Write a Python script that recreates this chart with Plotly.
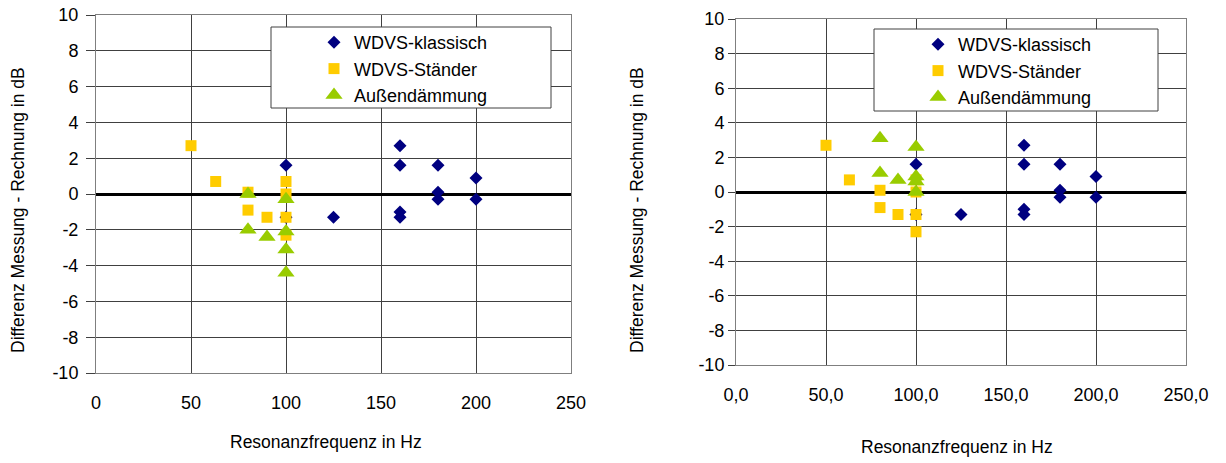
import plotly.graph_objects as go

# Resonanzfrequenz (Hz) und Differenz Messung - Rechnung (dB)
klassisch_f = [100, 100, 125, 160, 160, 160, 160, 180, 180, 180, 200, 200]
klassisch_d = [1.6, -1.3, -1.3, 2.7, 1.6, -1.0, -1.3, 1.6, 0.1, -0.3, 0.9, -0.3]

staender_f = [50, 63, 80, 80, 90, 100, 100, 100, 100]
staender_d = [2.7, 0.7, 0.1, -0.9, -1.3, 0.7, 0.0, -1.3, -2.3]

aussen_f = [80, 80, 90, 100, 100, 100, 100]
aussen_d_links = [0.0, -2.0, -2.4, -0.3, -2.1, -3.1, -4.4]
aussen_d_rechts = [3.1, 1.1, 0.7, 2.6, 0.9, 0.6, 0.0]

x_ticks = [0, 50, 100, 150, 200, 250]
x_labels_links = ["0", "50", "100", "150", "200", "250"]
x_labels_rechts = ["0,0", "50,0", "100,0", "150,0", "200,0", "250,0"]
y_ticks = [-10, -8, -6, -4, -2, 0, 2, 4, 6, 8, 10]
y_labels = ["-10", "-8", "-6", "-4", "-2", "0", "2", "4", "6", "8", "10"]

W, H = 1226, 463
FONT = "Liberation Sans, Arial, sans-serif"
C_KLASSISCH = "#000080"
C_STAENDER = "#FFCC00"
C_AUSSEN = "#99CC00"


def px_x(p):
    return p / W


def px_y(p):
    return 1 - p / H


fig = go.Figure()


def add_series(xa, ya, leg, aussen_d):
    fig.add_trace(go.Scatter(
        x=klassisch_f, y=klassisch_d, mode="markers", name="WDVS-klassisch",
        marker=dict(symbol="diamond", size=10, color=C_KLASSISCH),
        xaxis=xa, yaxis=ya, legend=leg))
    fig.add_trace(go.Scatter(
        x=staender_f, y=staender_d, mode="markers", name="WDVS-Ständer",
        marker=dict(symbol="square", size=11, color=C_STAENDER),
        xaxis=xa, yaxis=ya, legend=leg))
    fig.add_trace(go.Scatter(
        x=aussen_f, y=aussen_d, mode="markers", name="Außendämmung",
        marker=dict(symbol="triangle-up", size=15, color=C_AUSSEN),
        xaxis=xa, yaxis=ya, legend=leg))


add_series("x", "y", "legend", aussen_d_links)
add_series("x2", "y2", "legend2", aussen_d_rechts)

grid = "#404040"
tickfont = dict(family=FONT, size=18, color="#000")
common_x = dict(range=[0, 250], tickvals=x_ticks, showgrid=True, gridcolor=grid,
                gridwidth=1, zeroline=False, showline=True, linecolor="#7f7f7f",
                linewidth=1, mirror=True, ticks="", ticklabelstandoff=13,
                tickfont=tickfont, automargin=False)
common_y = dict(range=[-10, 10], tickvals=y_ticks, ticktext=y_labels,
                showgrid=True, gridcolor=grid, gridwidth=1,
                zeroline=True, zerolinecolor="#000", zerolinewidth=3,
                showline=True, linecolor="#7f7f7f", linewidth=1, mirror=True,
                ticks="outside", tickcolor="#404040", tickfont=tickfont,
                automargin=False)

title_font = dict(family=FONT, size=17.5, color="#000")
legend_font = dict(family=FONT, size=18, color="#000")

fig.update_layout(
    width=W, height=H, autosize=False,
    margin=dict(l=0, r=0, t=0, b=0, pad=0),
    paper_bgcolor="white", plot_bgcolor="white",
    font=dict(family=FONT, size=18, color="#000"),
    xaxis=dict(common_x, domain=[px_x(96), px_x(571)], anchor="y",
               ticktext=x_labels_links),
    yaxis=dict(common_y, domain=[px_y(373), px_y(15)], anchor="x",
               ticklen=9, ticklabelstandoff=4),
    xaxis2=dict(common_x, domain=[px_x(736), px_x(1186)], anchor="y2",
                ticktext=x_labels_rechts),
    yaxis2=dict(common_y, domain=[px_y(365), px_y(19)], anchor="x2",
                ticklen=7, ticklabelstandoff=0),
    legend=dict(x=px_x(314), y=px_y(24), xanchor="left", yanchor="top",
                bgcolor="rgba(0,0,0,0)", borderwidth=0, font=legend_font),
    legend2=dict(x=px_x(918), y=px_y(26), xanchor="left", yanchor="top",
                 bgcolor="rgba(0,0,0,0)", borderwidth=0, font=legend_font),
    shapes=[
        dict(type="rect", xref="paper", yref="paper", layer="above",
             x0=px_x(271), x1=px_x(551), y0=px_y(108), y1=px_y(27),
             fillcolor="white", line=dict(color="#404040", width=1)),
        dict(type="rect", xref="paper", yref="paper", layer="above",
             x0=px_x(874), x1=px_x(1158), y0=px_y(111), y1=px_y(29),
             fillcolor="white", line=dict(color="#404040", width=1)),
    ],
    annotations=[
        dict(text="Differenz Messung - Rechnung in dB", textangle=-90,
             x=px_x(18), y=px_y(210), xanchor="center", yanchor="middle",
             xref="paper", yref="paper", showarrow=False, font=title_font),
        dict(text="Differenz Messung - Rechnung in dB", textangle=-90,
             x=px_x(637), y=px_y(210), xanchor="center", yanchor="middle",
             xref="paper", yref="paper", showarrow=False, font=title_font),
        dict(text="Resonanzfrequenz in Hz",
             x=px_x(326), y=px_y(442), xanchor="center", yanchor="middle",
             xref="paper", yref="paper", showarrow=False, font=title_font),
        dict(text="Resonanzfrequenz in Hz",
             x=px_x(957), y=px_y(447), xanchor="center", yanchor="middle",
             xref="paper", yref="paper", showarrow=False, font=title_font),
    ],
)

fig.write_html("out.html", post_script="document.body.style.margin='0px';")
